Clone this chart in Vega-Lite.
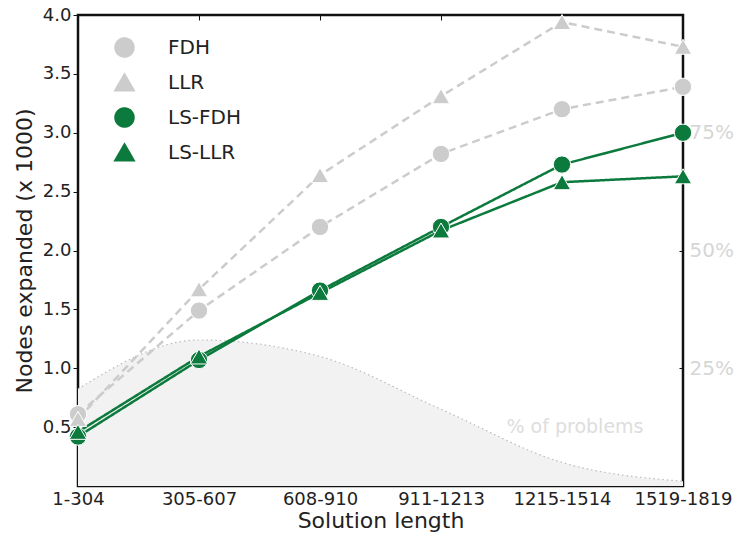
{
  "$schema": "https://vega.github.io/schema/vega-lite/v6.json",
  "width": 605,
  "height": 471,
  "autosize": "none",
  "padding": {"left": 78, "top": 15, "right": 59, "bottom": 54},
  "background": "white",
  "config": {
    "font": "DejaVu Sans",
    "view": {"stroke": "#111111", "strokeWidth": 2.5},
    "axis": {"grid": false, "labelColor": "#222222", "titleColor": "#222222", "titleFontWeight": "normal", "tickColor": "#111111", "domain": false}
  },
  "datasets": {
    "nodes": [
      {"len": "1-304", "series": "FDH", "value": 0.61},
      {"len": "305-607", "series": "FDH", "value": 1.49},
      {"len": "608-910", "series": "FDH", "value": 2.2},
      {"len": "911-1213", "series": "FDH", "value": 2.82},
      {"len": "1215-1514", "series": "FDH", "value": 3.2},
      {"len": "1519-1819", "series": "FDH", "value": 3.39},
      {"len": "1-304", "series": "LLR", "value": 0.57},
      {"len": "305-607", "series": "LLR", "value": 1.67},
      {"len": "608-910", "series": "LLR", "value": 2.64},
      {"len": "911-1213", "series": "LLR", "value": 3.31},
      {"len": "1215-1514", "series": "LLR", "value": 3.94},
      {"len": "1519-1819", "series": "LLR", "value": 3.73},
      {"len": "1-304", "series": "LS-FDH", "value": 0.42},
      {"len": "305-607", "series": "LS-FDH", "value": 1.07},
      {"len": "608-910", "series": "LS-FDH", "value": 1.66},
      {"len": "911-1213", "series": "LS-FDH", "value": 2.2},
      {"len": "1215-1514", "series": "LS-FDH", "value": 2.73},
      {"len": "1519-1819", "series": "LS-FDH", "value": 3.0},
      {"len": "1-304", "series": "LS-LLR", "value": 0.46},
      {"len": "305-607", "series": "LS-LLR", "value": 1.1},
      {"len": "608-910", "series": "LS-LLR", "value": 1.64},
      {"len": "911-1213", "series": "LS-LLR", "value": 2.17},
      {"len": "1215-1514", "series": "LS-LLR", "value": 2.58},
      {"len": "1519-1819", "series": "LS-LLR", "value": 2.63}
    ],
    "problems": [
      {"len": "1-304", "pct": 20.6},
      {"len": "305-607", "pct": 31},
      {"len": "608-910", "pct": 27.5},
      {"len": "911-1213", "pct": 16.3},
      {"len": "1215-1514", "pct": 5},
      {"len": "1519-1819", "pct": 1}
    ],
    "note": [
      {"len": "1215-1514", "pct": 12.5, "label": "% of problems"}
    ]
  },
  "layer": [
    {
      "layer": [
        {
          "data": {"name": "problems"},
          "mark": {"type": "area", "interpolate": "monotone", "fill": "#f2f2f2", "line": false},
          "encoding": {
            "x": {"field": "len", "type": "ordinal"},
            "y": {"field": "pct", "type": "quantitative"}
          }
        },
        {
          "data": {"name": "problems"},
          "mark": {"type": "line", "interpolate": "monotone", "stroke": "#bbbbbb", "strokeWidth": 1.2, "strokeDash": [1.5, 3]},
          "encoding": {
            "x": {"field": "len", "type": "ordinal"},
            "y": {"field": "pct", "type": "quantitative"}
          }
        },
        {
          "data": {"name": "note"},
          "mark": {"type": "text", "color": "#dddddd", "fontSize": 19, "dx": 13, "align": "center", "baseline": "middle"},
          "encoding": {
            "x": {"field": "len", "type": "ordinal"},
            "y": {"field": "pct", "type": "quantitative"},
            "text": {"field": "label"}
          }
        }
      ],
      "encoding": {
        "x": {"field": "len", "type": "ordinal", "sort": null,
              "scale": {"type": "point", "padding": 0, "domain": ["1-304", "305-607", "608-910", "911-1213", "1215-1514", "1519-1819"]},
              "axis": {"orient": "top", "labels": false, "tickSize": -5, "title": null}},
        "y": {"field": "pct", "type": "quantitative", "scale": {"domain": [0, 100], "nice": false, "zero": true},
              "axis": {"orient": "right", "values": [25, 50, 75], "labelExpr": "datum.value + '%'", "labelColor": "#d6d6d6", "labelFontSize": 20, "tickSize": -4, "labelPadding": 10, "title": null}}
      }
    },
    {
      "data": {"name": "nodes"},
      "layer": [
        {
          "mark": {"type": "line", "strokeWidth": 2.5},
          "encoding": {
            "x": {"field": "len", "type": "ordinal"},
            "y": {"field": "value", "type": "quantitative"},
            "stroke": {"field": "series", "type": "nominal",
              "scale": {"domain": ["FDH", "LLR", "LS-FDH", "LS-LLR"], "range": ["#cccccc", "#cccccc", "#0b7a3c", "#0b7a3c"]},
              "legend": {
                "orient": "none", "legendX": 36, "legendY": 22, "title": null,
                "labelFontSize": 20, "labelColor": "#222222", "labelOffset": 33, "rowPadding": 7,
                "symbolSize": 324, "symbolStrokeWidth": 2.5, "symbolType": "circle",
                "encode": {
                  "symbols": {
                    "update": {
                      "shape": {"signal": "(datum.value === 'FDH' || datum.value === 'LLR' ? 'M-2.7,-0.14L-2.1,-0.14L-2.1,0.14L-2.7,0.14ZM-1.6,-0.14L-1,-0.14L-1,0.14L-1.6,0.14ZM1,-0.14L1.6,-0.14L1.6,0.14L1,0.14ZM2.1,-0.14L2.7,-0.14L2.7,0.14L2.1,0.14Z' : 'M-2.7,-0.14L-1,-0.14L-1,0.14L-2.7,0.14ZM1,-0.14L2.7,-0.14L2.7,0.14L1,0.14Z') + ((datum.value === 'FDH' || datum.value === 'LS-FDH') ? 'M1,0A1,1 0 1,1 -1,0A1,1 0 1,1 1,0Z' : 'M0,-1.1L1.1,0.8L-1.1,0.8Z')"},
                      "fill": {"signal": "(datum.value === 'FDH' || datum.value === 'LLR') ? '#cccccc' : '#0b7a3c'"},
                      "strokeWidth": {"value": 2.5},
                      "strokeDash": {"value": [1, 0]},
                      "size": {"value": 324},
                      "opacity": {"value": 1},
                      "fillOpacity": {"value": 1},
                      "strokeOpacity": {"value": 1}
                    }
                  }
                }
              }},
            "strokeDash": {"field": "series", "type": "nominal",
              "scale": {"domain": ["FDH", "LLR", "LS-FDH", "LS-LLR"], "range": [[8, 5], [8, 5], [1, 0], [1, 0]]},
              "legend": null}
          }
        },
        {
          "mark": {"type": "point", "filled": true, "opacity": 1, "size": 300, "stroke": "white", "strokeWidth": 1},
          "encoding": {
            "x": {"field": "len", "type": "ordinal"},
            "y": {"field": "value", "type": "quantitative"},
            "fill": {"field": "series", "type": "nominal",
              "scale": {"domain": ["FDH", "LLR", "LS-FDH", "LS-LLR"], "range": ["#cccccc", "#cccccc", "#0b7a3c", "#0b7a3c"]},
              "legend": null},
            "shape": {"field": "series", "type": "nominal",
              "scale": {"domain": ["FDH", "LLR", "LS-FDH", "LS-LLR"], "range": ["circle", "triangle-up", "circle", "triangle-up"]},
              "legend": null}
          }
        }
      ],
      "encoding": {
        "x": {"field": "len", "type": "ordinal", "sort": null,
              "scale": {"type": "point", "padding": 0, "domain": ["1-304", "305-607", "608-910", "911-1213", "1215-1514", "1519-1819"]},
              "axis": {"orient": "bottom", "labelAngle": 0, "labelFontSize": 18, "tickSize": -5, "labelPadding": 9, "title": "Solution length", "titleFontSize": 22, "titlePadding": 2}},
        "y": {"field": "value", "type": "quantitative", "scale": {"domain": [0, 4], "nice": false, "zero": true},
              "axis": {"orient": "left", "values": [0.5, 1, 1.5, 2, 2.5, 3, 3.5, 4], "format": ".1f", "labelFontSize": 18, "tickSize": 5, "labelPadding": 2, "title": "Nodes expanded (x 1000)", "titleFontSize": 22, "titlePadding": 6}}
      }
    }
  ],
  "resolve": {"scale": {"y": "independent", "fill": "independent", "shape": "independent", "stroke": "independent"}, "axis": {"y": "independent", "x": "independent"}}
}
